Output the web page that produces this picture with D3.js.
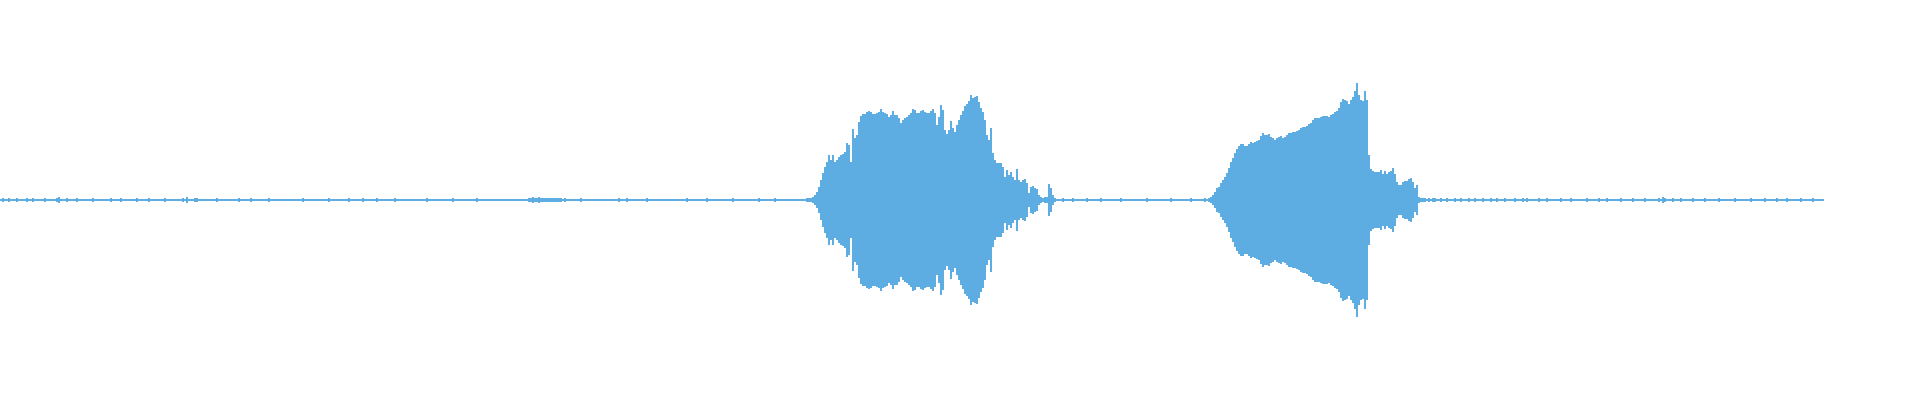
<!DOCTYPE html>
<html><head><meta charset="utf-8">
<script src="https://cdn.jsdelivr.net/npm/d3@7"></script>
<style>html,body{margin:0;padding:0;background:#fff;overflow:hidden}</style>
</head><body><svg id="c" width="1920" height="400"></svg>
<script>
// Peak amplitude per 2-sample column, full scale = 200
const quietStart = [
1,2,1,1,2,1,1,1,2,1,1,1,1,2,1,1,2,1,1,1,
1,1,2,1,1,1,1,1,2,3,1,1,1,2,1,1,1,1,2,1,
1,1,1,1,1,1,2,1,1,1,1,1,1,1,1,2,1,1,1,1,
2,1,1,1,1,1,1,1,2,1,1,1,1,1,2,1,1,1,1,1,
1,1,2,1,1,1,1,1,1,1,1,2,1,3,1,1,1,2,2,1,
1,1,1,1,1,1,1,1,2,1,1,1,1,1,1,1,1,1,1,2,
1,1,1,1,1,2,1,1,1,1,1,1,1,1,2,1,1,1,1,1,
1,1,1,1,1,1,1,1,1,1,1,2,1,1,1,1,1,1,1,1,
1,1,1,1,2,1,1,1,1,1,1,1,1,1,2,1,1,1,1,1,
1,2,1,1,1,1,1,1,2,1,1,1,1,1,1,1,1,2,1,1,
1,1,1,1,1,1,1,1,1,1,1,1,1,2,1,1,1,1,1,1,
1,1,1,1,1,1,2,1,1,1,1,1,1,1,1,1,1,1,2,1,
1,1,1,1,1,1,1,1,1,1,1,1,1,1,1,1,1,1,1,1,
1,1,1,1,2,2,3,2,2,3,2,2,2,2,2,2,2,2,2,2,
2,1,2,1,1,1,1,1,1,1,2,1,1,1,1,1,1,1,1,1,
1,1,1,1,1,1,1,1,1,2,1,1,1,2,1,1,1,1,1,1,
1,1,1,2,1,1,1,1,1,1,1,1,1,1,1,1,1,1,1,1,
1,1,1,2,1,1,1,1,1,1,1,1,1,2,1,1,1,1,1,1,
1,1,1,1,1,1,2,1,1,1,1,1,1,1,1,1,1,1,1,2,
1,1,1,1,1,1,1,2,1,1,1,1,1,1,1,1,1,1,1,1,
1,1,1
];
const burst1 = [
2,2,2,3,5,8,13,20,27,33,
38,45,40,45,38,40,43,45,46,48,
57,55,38,71,62,65,78,84,86,86,
88,89,88,86,86,87,88,91,88,87,
86,83,85,89,85,85,82,77,80,82,
83,85,87,91,90,87,87,89,90,88,
87,87,89,91,87,75,83,95,90,70,
66,70,79,72,68,75,80,85,89,94,
96,99,105,102,103,104,98,92,88,80,
65,60,72,47,40,37,37,37,33,23,
30,25,28,23,20,31,20,18,20,21,
17,7,13,14,12,11,5,3,2,3,
3,16,12,5,2
];
const quietMid = [
1,1,1,2,1,1,1,1,2,1,1,1,1,1,1,2,1,1,1,1,
1,1,2,1,1,1,1,1,1,1,1,1,2,1,1,1,1,1,1,1,
1,1,1,1,1,2,1,1,1,1,1,1,1,1,1,1,1,2,1,1,
1,1,1,1,1,1,1,2,1,1,1,1,1,1,2,1
];
const burst2 = [
2,3,5,8,12,13,17,20,23,27,
32,38,42,47,51,54,56,56,54,54,
56,58,57,58,59,60,64,67,65,65,
66,63,62,60,62,63,64,62,63,65,
67,67,68,68,69,70,72,73,73,74,
76,77,80,82,82,82,83,84,84,84,
83,85,86,88,89,92,98,101,100,99,
96,100,103,109,117,105,100,99,109,100,
45,31,29,28,28,28,30,26,29,26,
28,29,32,26,18,15,15,18,19,19,
21,22,18,12,15,3,2
];
const quietEnd = [
2,2,1,2,1,2,2,1,1,2,1,1,2,1,1,1,2,1,1,2,
1,1,1,2,1,1,2,1,1,1,2,1,1,1,2,1,1,2,1,1,
1,2,1,1,1,1,2,1,1,1,2,1,2,1,1,1,1,1,2,1,
1,1,2,1,1,1,1,1,1,2,1,1,1,1,2,1,1,1,1,1,
1,1,2,1,1,1,1,1,2,1,1,1,2,1,1,1,1,1,1,2,
1,1,1,1,1,2,1,1,1,1,1,2,1,1,1,1,1,1,2,1,
3,2,1,1,1,2,1,1,1,2,1,1,1,1,1,2,1,1,1,1,
1,2,1,1,1,1,1,1,2,1,1,1,1,1,1,1,2,1,1,1,
1,1,1,1,2,1,1,1,1,1,1,2,1,1,1,1,1,2,1,1,
1,1,2,1,1,1,1,1,1,2,1,1,1,1,1,2,1,1,1,1,
1
];

const peaks = [].concat(quietStart, burst1, quietMid, burst2, quietEnd);
const H = 400;
const svg = d3.select("#c");
const x = d3.scaleLinear().domain([0, peaks.length]).range([0, peaks.length * 2]);
const y = d3.scaleLinear().domain([-200, 200]).range([H, 0]);
svg.append("g")
  .attr("fill", "#5DADE2")
  .attr("shape-rendering", "crispEdges")
  .selectAll("rect")
  .data(peaks)
  .join("rect")
  .attr("x", (d, i) => x(i))
  .attr("width", (d, i) => x(i + 1) - x(i))
  .attr("y", d => y(d))
  .attr("height", d => y(-d) - y(d));
</script>
</body></html>
